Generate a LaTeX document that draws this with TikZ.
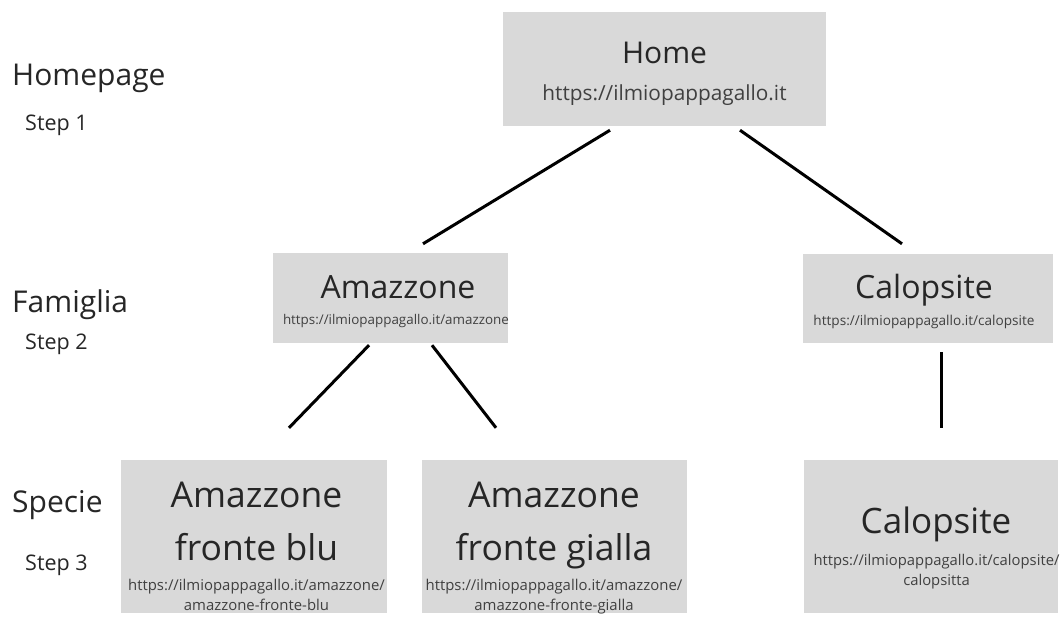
\documentclass[tikz,border=0pt]{standalone}
\usepackage{fontspec}
\setmainfont{Open Sans}
\usepackage{tikz}
\usetikzlibrary{positioning}
\definecolor{boxgray}{HTML}{D9D9D9}
\definecolor{ink}{HTML}{262626}
\definecolor{urlgray}{HTML}{404040}
\tikzset{
  page/.style={rectangle,fill=boxgray,inner sep=0pt},
  title/.style={anchor=base,align=center,text=ink,inner sep=0pt},
  url/.style={anchor=base,align=center,text=urlgray,inner sep=0pt},
  level/.style={anchor=base west,text=ink,inner sep=0pt,font=\fontsize{30}{36}\selectfont},
  stepl/.style={anchor=base west,text=ink,inner sep=0pt,font=\fontsize{21.5}{26}\selectfont},
  link/.style={line width=3pt,draw=black}
}
\begin{document}
\begin{tikzpicture}[x=1pt,y=-1pt]
\useasboundingbox (0,0) rectangle (1061,622);
% left column
\node[level] (lv1) at (12,85) {Homepage};
\node[stepl] (st1) at (25,130) {Step 1};
\node[level] (lv2) at (12,312) {Famiglia};
\node[stepl] (st2) at (25,349) {Step 2};
\node[level] (lv3) at (12,512) {Specie};
\node[stepl] (st3) at (25,570) {Step 3};
% boxes
\node[page,minimum width=323pt,minimum height=114pt] (home) at (664.5,69) {};
\node[page,minimum width=235pt,minimum height=90pt] (ama) at (390.5,298) {};
\node[page,minimum width=250pt,minimum height=89pt] (calo) at (928,298.5) {};
\node[page,minimum width=266pt,minimum height=153pt] (blu) at (254,536.5) {};
\node[page,minimum width=265pt,minimum height=153pt] (gialla) at (554.5,536.5) {};
\node[page,minimum width=254pt,minimum height=153pt] (calsp) at (931,536.5) {};
% texts (base = last line)
\node[title,font=\fontsize{30}{36}\selectfont] (home-t) at (664.5,63) {Home};
\node[url,font=\fontsize{20.8}{24}\selectfont] (home-u) at (664.5,100) {https://ilmiopappagallo.it};
\node[title,font=\fontsize{32}{38}\selectfont] (ama-t) at (398,298) {Amazzone};
\node[url,font=\fontsize{13.4}{16}\selectfont] (ama-u) at (396,324) {https://ilmiopappagallo.it/amazzone};
\node[title,font=\fontsize{32}{38}\selectfont] (calo-t) at (924,298) {Calopsite};
\node[url,font=\fontsize{13.6}{16}\selectfont] (calo-u) at (924,325) {https://ilmiopappagallo.it/calopsite};
\node[title,font=\fontsize{35.5}{53}\selectfont] (blu-t) at (256.5,560) {Amazzone\\fronte blu};
\node[url,font=\fontsize{14.9}{20}\selectfont] (blu-u) at (256.5,610) {https://ilmiopappagallo.it/amazzone/\\amazzone-fronte-blu};
\node[title,font=\fontsize{35.5}{53}\selectfont] (gialla-t) at (554,560) {Amazzone\\fronte gialla};
\node[url,font=\fontsize{14.9}{20}\selectfont] (gialla-u) at (554,610) {https://ilmiopappagallo.it/amazzone/\\amazzone-fronte-gialla};
\node[title,font=\fontsize{35}{42}\selectfont] (calsp-t) at (936,533) {Calopsite};
\node[url,font=\fontsize{14.8}{20}\selectfont] (calsp-u) at (936.5,585) {https://ilmiopappagallo.it/calopsite/\\calopsitta};
% connectors
\draw[link] ([xshift=-54.5pt,yshift=-4pt]home.south) -- ([xshift=32.5pt,yshift=9pt]ama.north);
\draw[link] ([xshift=75.5pt,yshift=-4pt]home.south) -- ([xshift=-26pt,yshift=10pt]calo.north);
\draw[link] ([xshift=-21.5pt,yshift=-2pt]ama.south) -- ([xshift=35pt,yshift=32pt]blu.north);
\draw[link] ([xshift=41.5pt,yshift=-2pt]ama.south) -- ([xshift=-58.5pt,yshift=32pt]gialla.north);
\draw[link] ([xshift=13pt,yshift=-9pt]calo.south) -- ([xshift=10pt,yshift=32pt]calsp.north);
\end{tikzpicture}
\end{document}
